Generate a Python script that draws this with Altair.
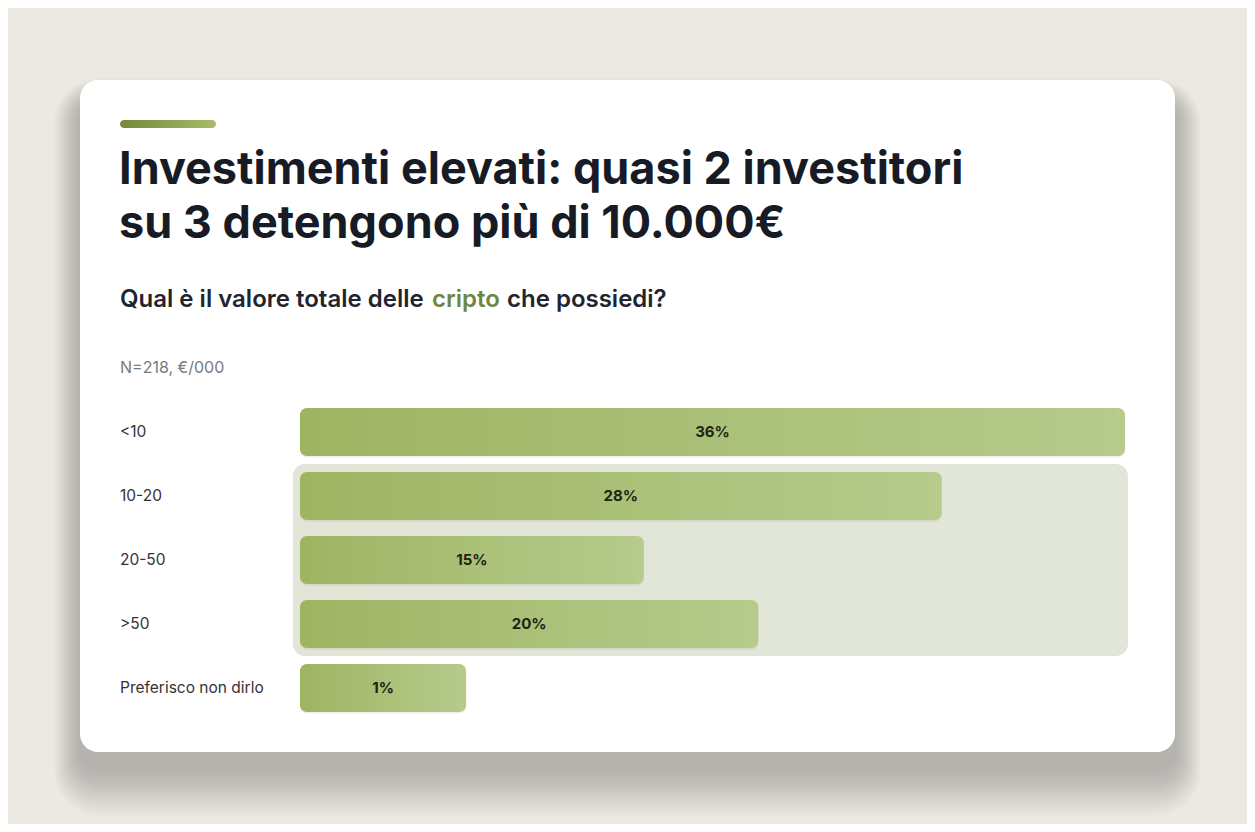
import altair as alt
import pandas as pd

categories = ["<10", "10-20", "20-50", ">50", "Preferisco non dirlo"]
values = [36, 28, 15, 20, 1]
labels = ["36%", "28%", "15%", "20%", "1%"]

title_lines = ["Investimenti elevati: quasi 2 investitori", "su 3 detengono più di 10.000€"]
subtitle_parts = ["Qual è il valore totale delle", "cripto", "che possiedi?"]
note = "N=218, €/000"

W, H = 1239, 816
FONT = "Inter"
BG = "#ece9e2"

df = pd.DataFrame({"cat": categories, "value": values, "label": labels})
one = pd.DataFrame({"a": [0]})

xscale = alt.Scale(domain=[0, 36], range=[292, 1117])
yscale = alt.Scale(domain=categories, range=[392, 712], paddingInner=0.25, paddingOuter=0.125)

layers = []

# card shadow (soft, stacked translucent layers)
for k in range(1, 21):
    layers.append(
        alt.Chart(one).mark_rect(color="#3a3528", opacity=0.014, cornerRadius=16 + k * 1.5).encode(
            x=alt.value(72 - k * 1.3), x2=alt.value(1167 + k * 1.3),
            y=alt.value(96 - k * 1.3), y2=alt.value(760 + k * 2.4),
        )
    )

# card
layers.append(
    alt.Chart(one).mark_rect(color="white", cornerRadius=18).encode(
        x=alt.value(72), x2=alt.value(1167), y=alt.value(72), y2=alt.value(744)
    )
)

# accent bar
layers.append(
    alt.Chart(one).mark_rect(
        cornerRadius=4,
        fill=alt.Gradient(gradient="linear", x1=0, x2=1, y1=0, y2=0,
                          stops=[alt.GradientStop(color="#74883a", offset=0),
                                 alt.GradientStop(color="#a8bb68", offset=1)]),
    ).encode(x=alt.value(112), x2=alt.value(208), y=alt.value(112), y2=alt.value(120))
)

# title
for i, line in enumerate(title_lines):
    layers.append(
        alt.Chart(one).mark_text(
            text=line, font=FONT, fontSize=45, fontWeight=700, color="#161b26",
            align="left", baseline="alphabetic",
        ).encode(x=alt.value(111), y=alt.value(176 + i * 54))
    )

# subtitle
sub_x = [112, 424, 499]
sub_col = ["#1f2430", "#6f8640", "#1f2430"]
for t, xx, c in zip(subtitle_parts, sub_x, sub_col):
    layers.append(
        alt.Chart(one).mark_text(
            text=t, font=FONT, fontSize=24, fontWeight=600, color=c,
            align="left", baseline="alphabetic",
        ).encode(x=alt.value(xx), y=alt.value(299))
    )

# note
layers.append(
    alt.Chart(one).mark_text(
        text=note, font=FONT, fontSize=16, color="#7a7a7a", align="left", baseline="alphabetic"
    ).encode(x=alt.value(112), y=alt.value(365))
)

# highlight panel
layers.append(
    alt.Chart(one).mark_rect(color="#e1e6d8", cornerRadius=12).encode(
        x=alt.value(285), x2=alt.value(1120), y=alt.value(456), y2=alt.value(648)
    )
)

base = alt.Chart(df).transform_calculate(
    zero="0", barlen="max(datum.value, 7.25)", mid="max(datum.value, 7.25) / 2"
)

# bar shadow
layers.append(
    base.mark_bar(color="#5a6a30", opacity=0.10, cornerRadius=7, yOffset=1.5).encode(
        x=alt.X("zero:Q", scale=xscale, axis=None),
        x2=alt.X2("barlen:Q"),
        y=alt.Y("cat:N", scale=yscale, axis=None),
    )
)

# bars
layers.append(
    base.mark_bar(
        cornerRadius=7,
        fill=alt.Gradient(gradient="linear", x1=0, x2=1, y1=0, y2=0,
                          stops=[alt.GradientStop(color="#9fb462", offset=0),
                                 alt.GradientStop(color="#b6cb8c", offset=1)]),
    ).encode(
        x=alt.X("zero:Q", scale=xscale, axis=None),
        x2=alt.X2("barlen:Q"),
        y=alt.Y("cat:N", scale=yscale, axis=None),
    )
)

# bar labels
layers.append(
    base.mark_text(font=FONT, fontSize=15, fontWeight=700, color="#1c2414", baseline="middle").encode(
        x=alt.X("mid:Q", scale=xscale, axis=None),
        y=alt.Y("cat:N", scale=yscale, axis=None),
        text="label:N",
    )
)

# category labels
layers.append(
    alt.Chart(df).mark_text(font=FONT, fontSize=15.5, color="#333333", align="left", baseline="middle").encode(
        x=alt.value(112),
        y=alt.Y("cat:N", scale=yscale, axis=None),
        text="cat:N",
    )
)

chart = alt.layer(*layers).properties(
    width=W, height=H, padding=0, autosize=alt.AutoSizeParams(type="none"), background=BG
).configure_view(stroke=None)

chart.save("out.html", embed_options={"renderer": "svg", "actions": False})
